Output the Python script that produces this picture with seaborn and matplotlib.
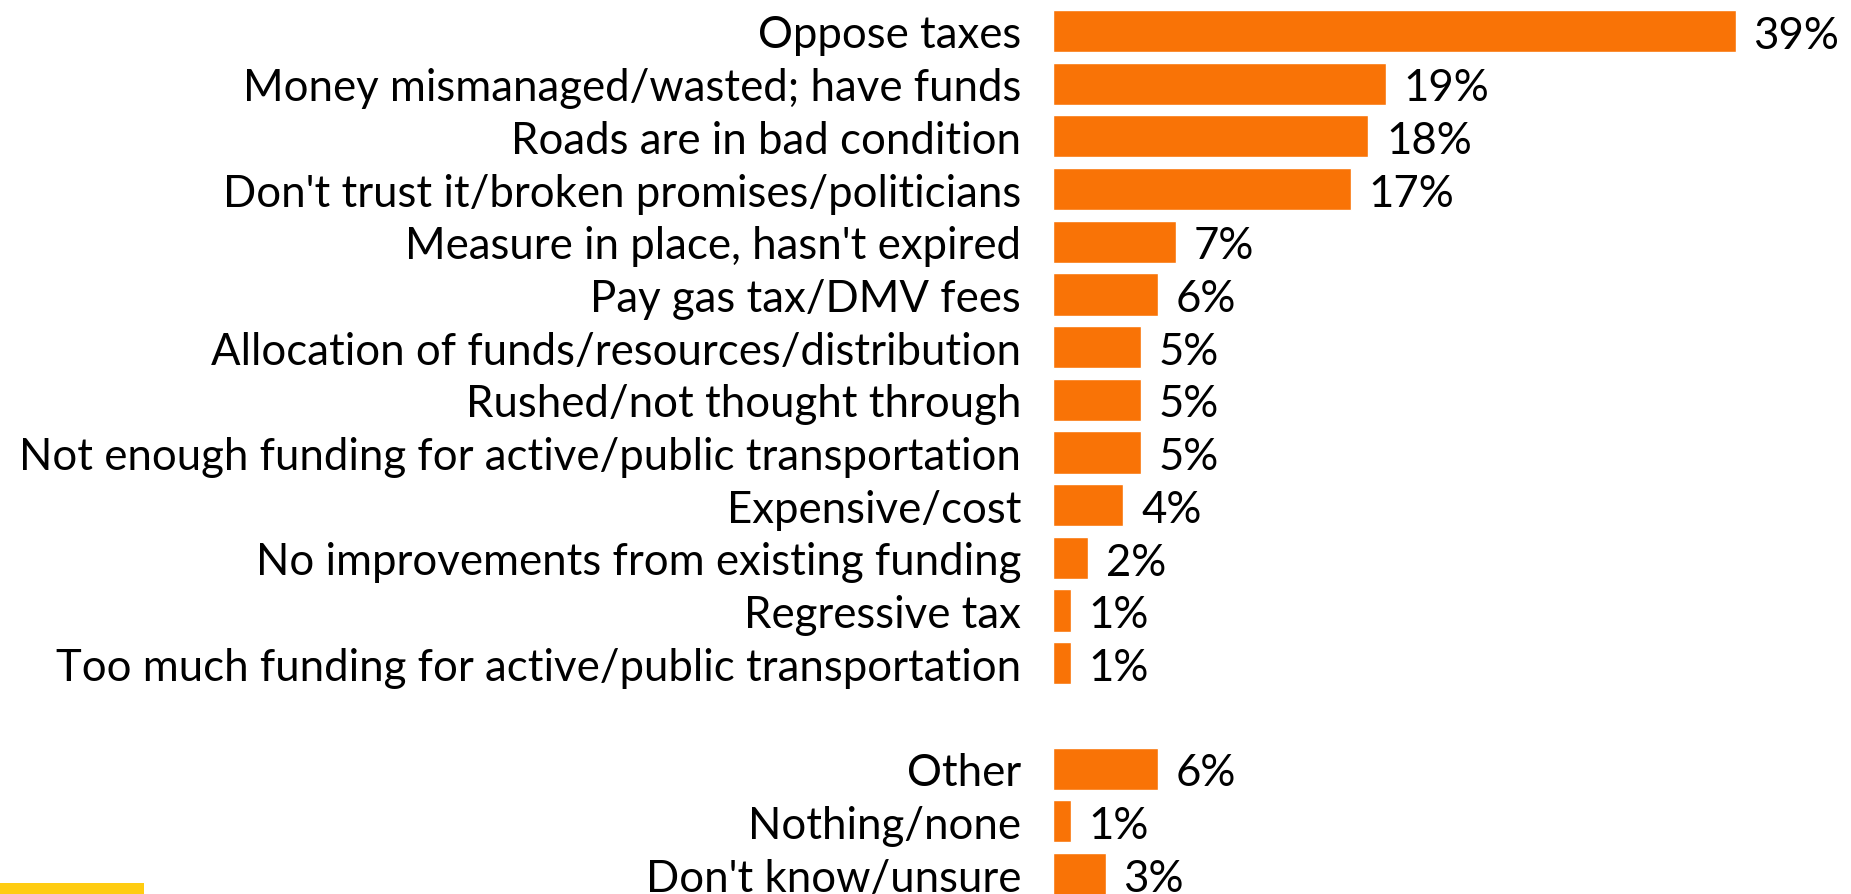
import matplotlib
matplotlib.use("Agg")
import matplotlib.pyplot as plt
import seaborn as sns
import pandas as pd
import numpy as np
from matplotlib.patches import Rectangle

categories = [
    "Oppose taxes",
    "Money mismanaged/wasted; have funds",
    "Roads are in bad condition",
    "Don't trust it/broken promises/politicians",
    "Measure in place, hasn't expired",
    "Pay gas tax/DMV fees",
    "Allocation of funds/resources/distribution",
    "Rushed/not thought through",
    "Not enough funding for active/public transportation",
    "Expensive/cost",
    "No improvements from existing funding",
    "Regressive tax",
    "Too much funding for active/public transportation",
]
values = [39, 19, 18, 17, 7, 6, 5, 5, 5, 4, 2, 1, 1]

extra_categories = ["Other", "Nothing/none", "Don't know/unsure"]
extra_values = [6, 1, 3]

spacer = " "
order = categories + [spacer] + extra_categories
df = pd.DataFrame({
    "reason": categories + extra_categories,
    "pct": values + extra_values,
})

sns.set_theme(style="white")
plt.rcParams["font.family"] = ["Lato", "DejaVu Sans"]

FS = 31.5
W, H = 1851, 895
fig = plt.figure(figsize=(W / 100, H / 100), dpi=100)
left_px = 1053
ax = fig.add_axes([left_px / W, 0, 798 / W, 1])

sns.barplot(data=df, x="pct", y="reason", order=order, orient="h",
            color="#F97306", saturation=1, width=0.8, ax=ax, errorbar=None)

ax.set_xlim(0, 798 / 17.5)
ax.set_ylim(16 + 20 / 52.7, -32 / 52.7)
ax.set_xlabel("")
ax.set_ylabel("")
ax.set_xticks([])
for s in ax.spines.values():
    s.set_visible(False)
ax.tick_params(axis="y", length=0, pad=23, labelsize=FS, labelcolor="#000000")

for c in ax.containers:
    for bar in c:
        w = bar.get_width()
        if np.isnan(w):
            continue
        ax.annotate(f"{w:g}%", (w, bar.get_y() + bar.get_height() / 2),
                    xytext=(13, -3), textcoords="offset points",
                    ha="left", va="center", fontsize=FS, color="#000000",
                    annotation_clip=False)

fig.patches.append(Rectangle((0, 0), 144 / W, 11 / H, transform=fig.transFigure,
                             facecolor="#FFCC11", edgecolor="none", zorder=0))

fig.savefig("out.png", dpi=100)
